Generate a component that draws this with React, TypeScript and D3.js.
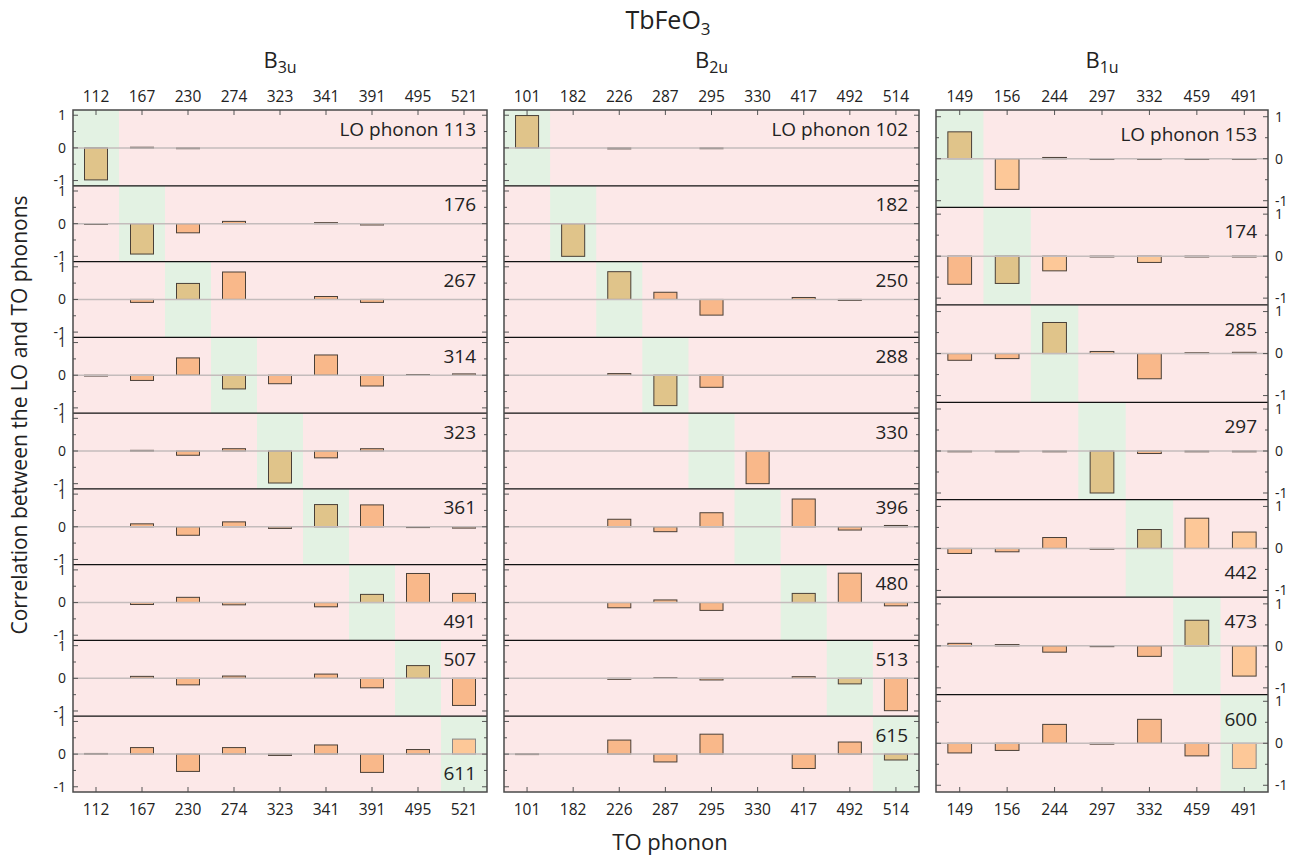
import React from "react";
import * as d3 from "d3";

// ---------- data ----------
const b3uTO = [112, 167, 230, 274, 323, 341, 391, 495, 521];
const b3uLO = [113, 176, 267, 314, 323, 361, 491, 507, 611];
const b3uCorr = [
  [-0.98, 0.02, -0.02, 0, 0, 0, 0, 0, 0],
  [-0.01, -0.93, -0.28, 0.07, 0, 0.03, -0.04, 0, 0],
  [0, -0.09, 0.49, 0.84, 0, 0.09, -0.09, 0, 0],
  [-0.02, -0.16, 0.53, -0.42, -0.26, 0.62, -0.33, 0.02, 0.04],
  [0, 0.02, -0.13, 0.07, -0.98, -0.21, 0.07, 0, 0],
  [0, 0.09, -0.26, 0.15, -0.05, 0.68, 0.67, -0.01, -0.04],
  [0, -0.06, 0.16, -0.07, 0, -0.13, 0.25, 0.89, 0.28],
  [0, 0.06, -0.2, 0.07, 0, 0.13, -0.29, 0.39, -0.83],
  [0.02, 0.2, -0.53, 0.2, -0.04, 0.28, -0.56, 0.14, 0.46],
];
const b3uLabelBelow = [491, 611];
const b3uLight = [[8, 8]];

const b2uTO = [101, 182, 226, 287, 295, 330, 417, 492, 514];
const b2uLO = [102, 182, 250, 288, 330, 396, 480, 513, 615];
const b2uCorr = [
  [0.99, 0, -0.03, 0, -0.01, 0, 0, 0, 0],
  [0, -1.0, 0, 0, 0, 0, 0, 0, 0],
  [0, 0, 0.85, 0.22, -0.48, 0, 0.06, -0.03, 0],
  [0, 0, 0.05, -0.93, -0.37, 0, 0, 0, 0],
  [0, 0, 0, 0, 0, -1.0, 0, 0, 0],
  [0, 0, 0.23, -0.15, 0.43, 0, 0.85, -0.1, 0.04],
  [0, 0, -0.16, 0.08, -0.24, 0, 0.28, 0.9, -0.1],
  [0, 0, -0.03, 0.02, -0.05, 0, 0.05, -0.17, -0.99],
  [0.01, 0, 0.43, -0.24, 0.61, 0, -0.44, 0.37, -0.18],
];
const b2uLabelBelow: number[] = [];
const b2uLight: number[][] = [];

const b1uTO = [149, 156, 244, 297, 332, 459, 491];
const b1uLO = [153, 174, 285, 297, 442, 473, 600];
const b1uCorr = [
  [0.64, -0.73, 0.03, -0.01, -0.01, -0.01, -0.01],
  [-0.67, -0.65, -0.35, -0.01, -0.15, -0.01, -0.01],
  [-0.16, -0.12, 0.74, 0.05, -0.6, 0.02, 0.03],
  [-0.01, -0.01, -0.01, -1.0, -0.06, -0.01, -0.01],
  [-0.12, -0.08, 0.26, -0.02, 0.45, 0.72, 0.39],
  [0.06, 0.03, -0.15, -0.01, -0.25, 0.61, -0.72],
  [-0.23, -0.17, 0.45, -0.02, 0.57, -0.3, -0.6],
];
const b1uLabelBelow = [442];
const b1uLight = [[0, 1], [1, 2], [1, 4], [4, 5], [4, 6], [5, 6], [6, 6]];

const yTickMajor = [-1, 0, 1];
const yTickMinor = [-0.5, 0.5];

// ---------- layout ----------
const W = 1309;
const H = 861;
const TOP = 110;
const BOTTOM = 792;
const YMAX = 1.16;
const FONT = "'Open Sans', 'Noto Sans', sans-serif";

const COL_PINK = "#fce8e8";
const COL_GREEN = "#e3f2e3";
const COL_BAR = "#f9b88a";
const COL_DIAG = "#e0c48a";
const COL_LIGHT = "#fdc898";

type Panel = {
  sym: string;
  sub: string;
  x0: number;
  x1: number;
  to: number[];
  lo: number[];
  corr: number[][];
  below: number[];
  light: number[][];
  axis: "left" | "none" | "right";
};

const panels: Panel[] = [
  { sym: "B", sub: "3u", x0: 73, x1: 487, to: b3uTO, lo: b3uLO, corr: b3uCorr, below: b3uLabelBelow, light: b3uLight, axis: "left" },
  { sym: "B", sub: "2u", x0: 504, x1: 919, to: b2uTO, lo: b2uLO, corr: b2uCorr, below: b2uLabelBelow, light: b2uLight, axis: "none" },
  { sym: "B", sub: "1u", x0: 936, x1: 1268, to: b1uTO, lo: b1uLO, corr: b1uCorr, below: b1uLabelBelow, light: b1uLight, axis: "right" },
];

function PanelView({ p }: { p: Panel }) {
  const n = p.to.length;
  const idx = d3.range(n).map(String);
  const xBar = d3.scaleBand().domain(idx).range([p.x0, p.x1]).paddingInner(0.5).paddingOuter(0.25);
  const xCell = d3.scaleBand().domain(idx).range([p.x0, p.x1]).padding(0);
  const rows = p.lo.length;
  const rowScale = d3.scaleBand().domain(d3.range(rows).map(String)).range([TOP, BOTTOM]).padding(0);
  const rowH = rowScale.bandwidth();
  const cx = (i: number) => (xCell(String(i)) as number) + xCell.bandwidth() / 2;
  const isLight = (r: number, c: number) => p.light.some((e) => e[0] === r && e[1] === c);

  const elems: React.ReactNode[] = [];
  p.lo.forEach((lo, r) => {
    const top = rowScale(String(r)) as number;
    const bot = top + rowH;
    const y = d3.scaleLinear().domain([-YMAX, YMAX]).range([bot, top]);
    elems.push(<rect key={`bg${r}`} x={p.x0} y={top} width={p.x1 - p.x0} height={rowH} fill={COL_PINK} />);
    elems.push(
      <rect key={`gr${r}`} x={xCell(String(r))} y={top} width={xCell.bandwidth()} height={rowH} fill={COL_GREEN} />
    );
    // bars
    p.corr[r].forEach((v, c) => {
      if (v === 0) return;
      const y0 = y(0);
      const y1 = y(v);
      const fill = isLight(r, c) ? COL_LIGHT : c === r ? COL_DIAG : COL_BAR;
      elems.push(
        <rect
          key={`b${r}-${c}`}
          x={xBar(String(c))}
          y={Math.min(y0, y1)}
          width={xBar.bandwidth()}
          height={Math.max(Math.abs(y1 - y0), 0.8)}
          fill={fill}
          stroke={isLight(r, c) && c === r ? "#888" : "#4a4038"}
          strokeWidth={1}
        />
      );
    });
    // zero line
    elems.push(<line key={`z${r}`} x1={p.x0} x2={p.x1} y1={y(0)} y2={y(0)} stroke="#c4bcbc" strokeWidth={1.5} />);
    // y ticks on both sides
    [...yTickMajor.map((t) => [t, 5]), ...yTickMinor.map((t) => [t, 3])].forEach(([t, len], k) => {
      elems.push(
        <line key={`tl${r}-${k}`} x1={p.x0} x2={p.x0 + len} y1={y(t)} y2={y(t)} stroke="#555" strokeWidth={1} />
      );
      elems.push(
        <line key={`tr${r}-${k}`} x1={p.x1} x2={p.x1 - len} y1={y(t)} y2={y(t)} stroke="#555" strokeWidth={1} />
      );
    });
    if (p.axis !== "none") {
      yTickMajor.forEach((t) => {
        elems.push(
          <text
            key={`yl${r}-${t}`}
            x={p.axis === "left" ? p.x0 - 7 : p.x1 + 7}
            y={y(t)}
            dy="0.35em"
            fontSize={14}
            textAnchor={p.axis === "left" ? "end" : "start"}
            fill="#222"
          >
            {t}
          </text>
        );
      });
    }
    // LO label
    const below = p.below.includes(lo);
    elems.push(
      <text
        key={`lo${r}`}
        x={p.x1 - 11}
        y={y(below ? -0.58 : 0.58)}
        dy="0.35em"
        fontSize={19}
        textAnchor="end"
        fill="#222"
      >
        {r === 0 ? `LO phonon ${lo}` : lo}
      </text>
    );
    if (r > 0) {
      elems.push(<line key={`sep${r}`} x1={p.x0} x2={p.x1} y1={top} y2={top} stroke="#111" strokeWidth={1.2} />);
    }
  });

  // x ticks top & bottom
  p.to.forEach((t, i) => {
    elems.push(<line key={`xt${i}`} x1={cx(i)} x2={cx(i)} y1={TOP} y2={TOP + 5} stroke="#555" strokeWidth={1} />);
    elems.push(<line key={`xb${i}`} x1={cx(i)} x2={cx(i)} y1={BOTTOM} y2={BOTTOM - 5} stroke="#555" strokeWidth={1} />);
    elems.push(
      <text key={`xtl${i}`} x={cx(i)} y={102} fontSize={15.5} textAnchor="middle" fill="#222">
        {t}
      </text>
    );
    elems.push(
      <text key={`xbl${i}`} x={cx(i)} y={815} fontSize={15.5} textAnchor="middle" fill="#222">
        {t}
      </text>
    );
  });

  // frame
  elems.push(
    <rect key="frame" x={p.x0} y={TOP} width={p.x1 - p.x0} height={BOTTOM - TOP} fill="none" stroke="#4a4a4a" strokeWidth={1.5} />
  );
  // panel title
  elems.push(
    <text key="ptitle" x={(p.x0 + p.x1) / 2} y={68} fontSize={22} textAnchor="middle" fill="#222">
      {p.sym}
      <tspan fontSize={16} dy={5}>
        {p.sub}
      </tspan>
    </text>
  );
  return <g>{elems}</g>;
}

export default function App() {
  return (
    <svg
      width={W}
      height={H}
      viewBox={`0 0 ${W} ${H}`}
      style={{ position: "absolute", left: 0, top: 0, display: "block", background: "#fff" }}
      fontFamily={FONT}
    >
      <rect x={0} y={0} width={W} height={H} fill="#fff" />
      <text x={668} y={29} fontSize={25} textAnchor="middle" fill="#222">
        TbFeO
        <tspan fontSize={17} dy={6}>
          3
        </tspan>
      </text>
      {panels.map((p, i) => (
        <PanelView key={i} p={p} />
      ))}
      <text x={670} y={850} fontSize={22} textAnchor="middle" fill="#222">
        TO phonon
      </text>
      <text
        transform={`translate(27, 415) rotate(-90)`}
        fontSize={21}
        textAnchor="middle"
        fill="#222"
      >
        Correlation between the LO and TO phonons
      </text>
    </svg>
  );
}
